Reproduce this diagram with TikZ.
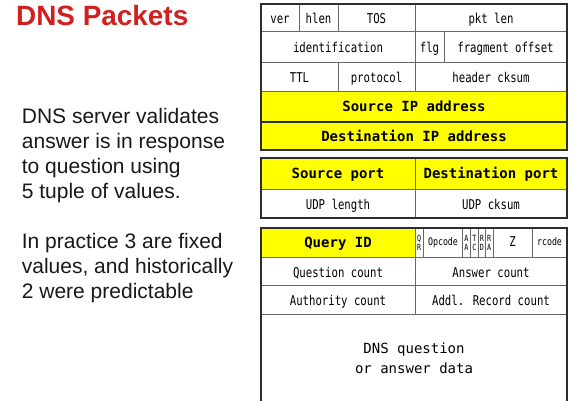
\documentclass[tikz,border=0pt]{standalone}
\usepackage{fontspec}
\setmainfont{Liberation Sans}
\newfontfamily\cellfont[FakeStretch=0.79]{DejaVu Sans Mono}
\newfontfamily\cellwide{DejaVu Sans Mono}
\definecolor{titlered}{RGB}{208,32,32}
\definecolor{fieldyellow}{RGB}{255,255,0}
\definecolor{rulegray}{RGB}{105,105,105}
\definecolor{edgedark}{RGB}{45,45,45}
\definecolor{bodytext}{RGB}{25,25,25}

% one header field: style, name, x1, y1, x2, y2, text (pixel units, y downwards)
\newcommand\pktcell[7]{%
  \node[#1, minimum width={(#5-#3)*1pt}, minimum height={(#6-#4)*1pt}]
    (#2) at ({(#3+#5)/2}, {-(#4+#6)/2}) {#7};}

\begin{document}
\begin{tikzpicture}[x=1pt, y=1pt,
  cellbase/.style={draw=rulegray, line width=1pt, fill=white, inner sep=0pt,
    outer sep=0pt, rectangle, text=black},
  field/.style={cellbase, text height=13pt, text depth=1pt,
    font=\cellfont\fontsize{13.5}{15}\selectfont},
  keyfield/.style={cellbase, fill=fieldyellow, text height=12pt, text depth=2pt,
    font=\cellwide\bfseries\fontsize{14}{16}\selectfont},
  flagfield/.style={cellbase, text height=7pt, text depth=2pt,
    font=\cellfont\fontsize{10.5}{12}\selectfont},
  zfield/.style={cellbase, text height=9pt, text depth=2pt,
    font=\cellfont\fontsize{13.5}{15}\selectfont},
  bitfield/.style={cellbase, align=center,
    font=\cellfont\fontsize{8.5}{9}\selectfont},
  datafield/.style={cellbase, align=center,
    font=\cellwide\fontsize{14}{20}\selectfont},
  block/.style={draw=edgedark, line width=1.4pt},
  blocktop/.style={draw=edgedark, line width=2pt},
  bodyline/.style={anchor=base west, inner sep=0pt, text=bodytext,
    font=\fontsize{21}{25}\selectfont}]

\useasboundingbox (0,0) rectangle (572,-400);
\fill[white] (0,0) rectangle (572,-400);

% title
\node[anchor=base west, inner sep=0pt, text=titlered,
  font=\bfseries\fontsize{27.9}{32}\selectfont] (title) at (16,-25) {DNS Packets};

% explanation
\node[bodyline] (l1) at (21.7,-123) {DNS server validates};
\node[bodyline] (l2) at (21.7,-148) {answer is in response};
\node[bodyline] (l3) at (21.7,-173) {to question using};
\node[bodyline] (l4) at (21.7,-198) {5 tuple of values.};
\node[bodyline] (l5) at (21.7,-248) {In practice 3 are fixed};
\node[bodyline] (l6) at (21.7,-273) {values, and historically};
\node[bodyline] (l7) at (21.7,-298) {2 were predictable};

% IP header
\pktcell{field}{ver}{261}{4}{299}{31}{ver}
\pktcell{field}{hlen}{299}{4}{338}{31}{hlen}
\pktcell{field}{tos}{338}{4}{415}{31}{TOS}
\pktcell{field}{pktlen}{415}{4}{567}{31}{pkt len}
\pktcell{field}{ident}{261}{31}{415}{62}{identification}
\pktcell{field}{flg}{415}{31}{444}{62}{flg}
\pktcell{field}{fragoff}{444}{31}{567}{62}{fragment offset}
\pktcell{field}{ttl}{261}{62}{338}{91}{TTL}
\pktcell{field}{proto}{338}{62}{415}{91}{protocol}
\pktcell{field}{hcksum}{415}{62}{567}{91}{header cksum}
\pktcell{keyfield}{srcip}{261}{91}{567}{122}{Source IP address}
\pktcell{keyfield}{dstip}{261}{122}{567}{150}{Destination IP address}
\draw[block] (261,-4) rectangle (567,-150);
\draw[block] (261,-122) -- (567,-122);

% UDP header
\pktcell{keyfield}{srcport}{261}{158}{415}{189}{Source port}
\pktcell{keyfield}{dstport}{415}{158}{567}{189}{Destination port}
\pktcell{field}{udplen}{261}{189}{415}{218}{UDP length}
\pktcell{field}{udpck}{415}{189}{567}{218}{UDP cksum}
\draw[block] (261,-158) rectangle (567,-218);
\draw[blocktop] (261,-158) -- (567,-158);

% DNS header
\pktcell{keyfield}{qid}{261}{228}{415}{257}{Query ID}
\pktcell{bitfield}{qr}{415}{228}{423.5}{257}{Q\\R}
\pktcell{flagfield}{opcode}{423.5}{228}{462.5}{257}{Opcode}
\pktcell{bitfield}{aa}{462.5}{228}{470.5}{257}{A\\A}
\pktcell{bitfield}{tc}{470.5}{228}{478.5}{257}{T\\C}
\pktcell{bitfield}{rd}{478.5}{228}{485.5}{257}{R\\D}
\pktcell{bitfield}{ra}{485.5}{228}{493}{257}{R\\A}
\pktcell{zfield}{z}{493}{228}{532}{257}{Z}
\pktcell{flagfield}{rcode}{532}{228}{567}{257}{rcode}
\pktcell{field}{qcount}{261}{257}{415}{285}{Question count}
\pktcell{field}{acount}{415}{257}{567}{285}{Answer count}
\pktcell{field}{nscount}{261}{285}{415}{314}{Authority count}
\pktcell{field}{arcount}{415}{285}{567}{314}{Addl. Record count}
\pktcell{datafield}{payload}{261}{314}{567}{402}{DNS question\\or answer data}
\draw[block] (261,-404) -- (261,-228) -- (567,-228) -- (567,-404);
\draw[blocktop] (261,-228) -- (567,-228);

\end{tikzpicture}
\end{document}
